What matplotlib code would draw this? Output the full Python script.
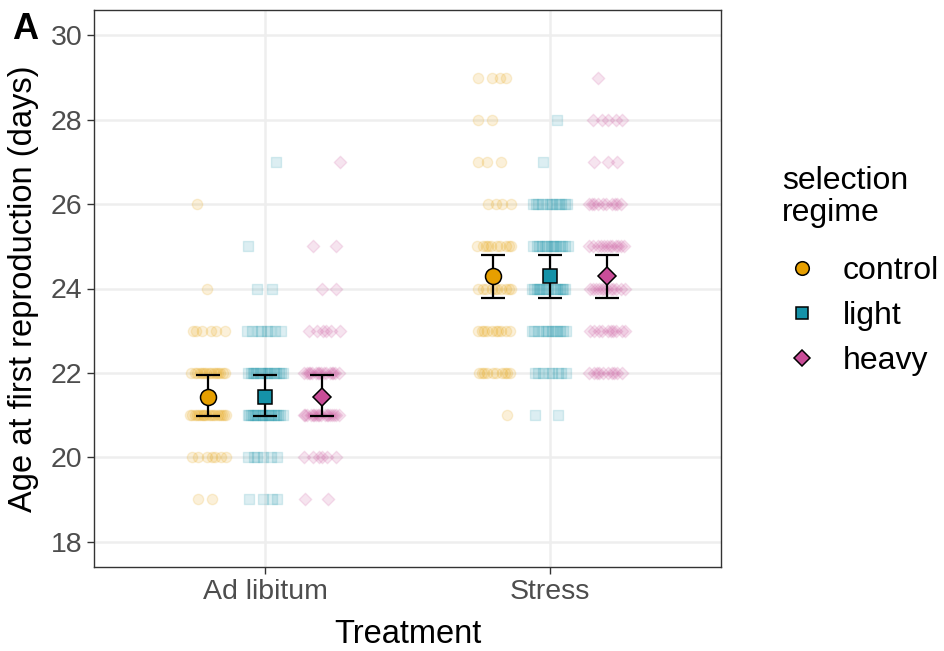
import numpy as np
import matplotlib
matplotlib.use("Agg")
import matplotlib.pyplot as plt
from matplotlib.lines import Line2D

plt.rcParams['font.family'] = ['Liberation Sans', 'DejaVu Sans']

# ---- data ---------------------------------------------------------------
treatments = ["Ad libitum", "Stress"]
regimes = ["control", "light", "heavy"]
ages = [19, 20, 21, 22, 23, 24, 25, 26, 27, 28, 29]

# number of individuals at each age (days) per treatment x regime
adlib_control = [2, 7, 18, 15, 6, 1, 0, 1, 0, 0, 0]
adlib_light = [4, 6, 18, 16, 8, 2, 1, 0, 1, 0, 0]
adlib_heavy = [2, 6, 18, 16, 6, 2, 2, 0, 1, 0, 0]
stress_control = [0, 0, 1, 10, 10, 10, 10, 4, 3, 2, 4]
stress_light = [0, 0, 2, 8, 12, 15, 14, 12, 1, 1, 0]
stress_heavy = [0, 0, 0, 10, 10, 12, 12, 10, 3, 5, 1]

# group means and 95% CI limits
mean_adlib = [21.43, 21.43, 21.43]
lower_adlib = [20.97, 20.97, 20.97]
upper_adlib = [21.95, 21.95, 21.95]
mean_stress = [24.30, 24.30, 24.30]
lower_stress = [23.77, 23.77, 23.77]
upper_stress = [24.80, 24.80, 24.80]

counts = {
    ("Ad libitum", "control"): adlib_control,
    ("Ad libitum", "light"): adlib_light,
    ("Ad libitum", "heavy"): adlib_heavy,
    ("Stress", "control"): stress_control,
    ("Stress", "light"): stress_light,
    ("Stress", "heavy"): stress_heavy,
}
summary = {
    "Ad libitum": (mean_adlib, lower_adlib, upper_adlib),
    "Stress": (mean_stress, lower_stress, upper_stress),
}

# ---- style --------------------------------------------------------------
colors = {"control": "#E69F00", "light": "#1592A8", "heavy": "#C94D98"}
markers = {"control": "o", "light": "s", "heavy": "D"}
raw_size = {"control": 55, "light": 45, "heavy": 40}
mean_size = {"control": 11.5, "light": 10, "heavy": 9}
dodge = {"control": -0.2, "light": 0.0, "heavy": 0.2}
jitter_w = 0.065
golden = 0.6180339887

fig = plt.figure(figsize=(9.44, 6.51), dpi=100)
ax = fig.add_axes([94 / 944, 1 - 567 / 651, (721 - 94) / 944, (567 - 10) / 651])

for ti, tr in enumerate(treatments):
    xc = ti + 1
    means, lows, ups = summary[tr]
    for ri, rg in enumerate(regimes):
        xs, ys = [], []
        for ai, (age, n) in enumerate(zip(ages, counts[(tr, rg)])):
            phase = 0.37 * ai + 0.21 * ri + 0.53 * ti
            for k in range(n):
                u = ((k + 1) * golden + phase) % 1.0
                xs.append(xc + dodge[rg] + (2 * u - 1) * jitter_w)
                ys.append(age)
        ax.scatter(xs, ys, s=raw_size[rg], marker=markers[rg],
                   facecolor=colors[rg], edgecolor=colors[rg],
                   linewidths=1.0, alpha=0.15, zorder=2)
        xm = xc + dodge[rg]
        ax.errorbar([xm], [means[ri]],
                    yerr=[[means[ri] - lows[ri]], [ups[ri] - means[ri]]],
                    fmt="none", ecolor="black", elinewidth=1.6,
                    capsize=8.5, capthick=1.6, zorder=3)
        ax.plot([xm], [means[ri]], marker=markers[rg], markersize=mean_size[rg],
                markerfacecolor=colors[rg], markeredgecolor="black",
                markeredgewidth=1.1, linestyle="none", zorder=4)

# ---- axes ---------------------------------------------------------------
ax.set_xlim(0.4, 2.6)
ax.set_ylim(17.4, 30.6)
ax.set_xticks([1, 2])
ax.set_xticklabels(treatments)
ax.set_yticks([18, 20, 22, 24, 26, 28, 30])
ax.grid(True, color="#EEEEEE", linewidth=1.8, zorder=0)
ax.set_axisbelow(True)
for sp in ax.spines.values():
    sp.set_color("#333333")
    sp.set_linewidth(1.0)
ax.tick_params(axis="both", colors="#333333", labelcolor="#4D4D4D",
               labelsize=20.5, length=5, width=1.0)
ax.set_xlabel("Treatment", fontsize=23.5, labelpad=10)
ax.set_ylabel("Age at first reproduction (days)", fontsize=23.5, labelpad=8)

fig.text(12 / 944, 1 - 12 / 651, "A", fontsize=26, fontweight="bold",
         ha="left", va="top")

# ---- legend -------------------------------------------------------------
fig.text(782 / 944, 1 - 166 / 651, "selection\nregime", fontsize=23,
         ha="left", va="top", linespacing=1.1)
leg_y = [268, 313, 358]
for rg, yy in zip(regimes, leg_y):
    fy = 1 - yy / 651
    fig.add_artist(Line2D([802 / 944], [fy], marker=markers[rg],
                          markersize=mean_size[rg] * 0.85,
                          markerfacecolor=colors[rg], markeredgecolor="black",
                          markeredgewidth=1.1, linestyle="none",
                          transform=fig.transFigure))
    fig.text(843 / 944, fy, rg, fontsize=23, ha="left", va="center_baseline")

fig.savefig("out.png", dpi=100)
